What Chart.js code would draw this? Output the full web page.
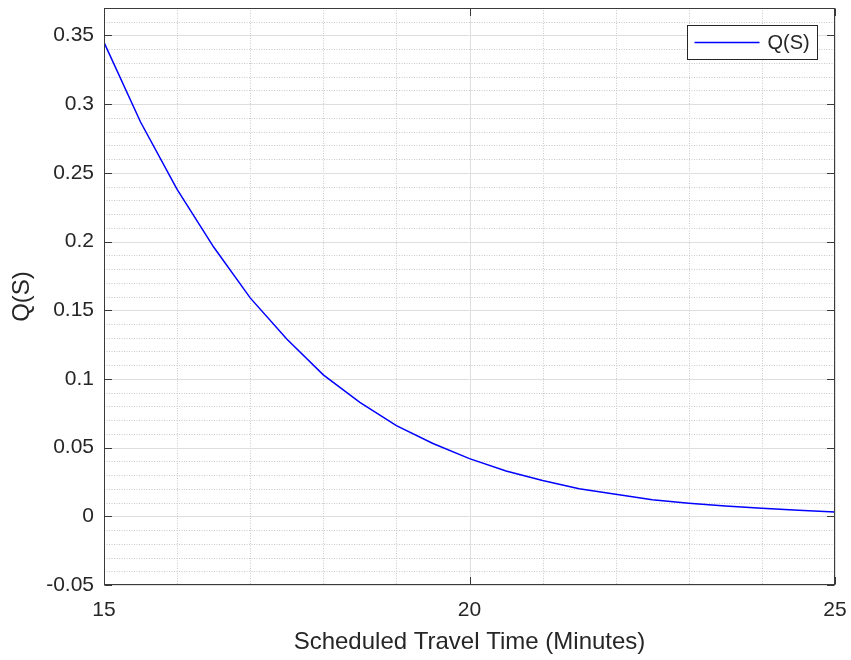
<!DOCTYPE html>
<html>
<head>
<meta charset="utf-8">
<script src="https://cdn.jsdelivr.net/npm/chart.js@4.4.0/dist/chart.umd.min.js"></script>
<style>
html,body{margin:0;padding:0;background:#ffffff;}
#wrap{width:851px;height:660px;}
</style>
</head>
<body>
<div id="wrap"><canvas id="c" width="851" height="660"></canvas></div>
<script>
// ---- data ----
const travelTime = [15, 15.5, 16, 16.5, 17, 17.5, 18, 18.5, 19, 19.5, 20, 20.5, 21, 21.5, 22, 22.5, 23, 23.5, 24, 24.5, 25];
const qValues = [0.345, 0.287, 0.238, 0.196, 0.159, 0.129, 0.103, 0.083, 0.066, 0.053, 0.042, 0.033, 0.026, 0.020, 0.016, 0.012, 0.0095, 0.0075, 0.0058, 0.0044, 0.0032];
const seriesLabel = 'Q(S)';
const xTickValues = [15, 20, 25];
const yTickValues = [-0.05, 0, 0.05, 0.1, 0.15, 0.2, 0.25, 0.3, 0.35];
const yTickLabels = ['-0.05', '0', '0.05', '0.1', '0.15', '0.2', '0.25', '0.3', '0.35'];
const xLabel = 'Scheduled Travel Time (Minutes)';
const yLabel = 'Q(S)';

const X_MIN = 15, X_MAX = 25, Y_MIN = -0.05, Y_MAX = 0.37;
const X_MINOR_STEP = 1, Y_MINOR_STEP = 0.01;

const TEXT = '#262626';
const FONT = "'Liberation Sans', Arial, Helvetica, sans-serif";

const gridPlugin = {
  id: 'matlabGrid',
  beforeDatasetsDraw(chart) {
    const {ctx, chartArea: a, scales: {x, y}} = chart;
    ctx.save();
    ctx.lineWidth = 1;
    // minor dotted
    ctx.strokeStyle = '#c9c9c9';
    ctx.setLineDash([1, 1.5]);
    for (let i = 0; ; i++) {
      const v = X_MIN + i * X_MINOR_STEP;
      if (v > X_MAX + 1e-9) break;
      if (xTickValues.some(t => Math.abs(t - v) < 1e-9)) continue;
      const px = Math.round(x.getPixelForValue(v)) + 0.5;
      ctx.beginPath(); ctx.moveTo(px, a.top); ctx.lineTo(px, a.bottom); ctx.stroke();
    }
    for (let i = 0; ; i++) {
      const v = Y_MIN + i * Y_MINOR_STEP;
      if (v > Y_MAX + 1e-9) break;
      if (yTickValues.some(t => Math.abs(t - v) < 1e-9)) continue;
      const py = Math.round(y.getPixelForValue(v)) + 0.5;
      ctx.beginPath(); ctx.moveTo(a.left, py); ctx.lineTo(a.right, py); ctx.stroke();
    }
    // major solid
    ctx.setLineDash([]);
    ctx.strokeStyle = '#dedede';
    xTickValues.forEach(v => {
      const px = Math.round(x.getPixelForValue(v)) + 0.5;
      ctx.beginPath(); ctx.moveTo(px, a.top); ctx.lineTo(px, a.bottom); ctx.stroke();
    });
    yTickValues.forEach(v => {
      const py = Math.round(y.getPixelForValue(v)) + 0.5;
      ctx.beginPath(); ctx.moveTo(a.left, py); ctx.lineTo(a.right, py); ctx.stroke();
    });
    ctx.restore();
  },
  afterDatasetsDraw(chart) {
    const {ctx, chartArea: a, scales: {x, y}} = chart;
    ctx.save();
    ctx.strokeStyle = '#3a3a3a';
    ctx.lineWidth = 1;
    const L = Math.round(a.left) + 0.5, R = Math.round(a.right) - 0.5;
    const T = Math.round(a.top) + 0.5, B = Math.round(a.bottom) - 0.5;
    ctx.strokeRect(L, T, R - L, B - T);
    const tl = 7.5;
    yTickValues.forEach(v => {
      const py = Math.round(y.getPixelForValue(v)) + 0.5;
      ctx.beginPath(); ctx.moveTo(L, py); ctx.lineTo(L + tl, py); ctx.stroke();
      ctx.beginPath(); ctx.moveTo(R, py); ctx.lineTo(R - tl, py); ctx.stroke();
    });
    xTickValues.forEach(v => {
      const px = Math.round(x.getPixelForValue(v)) + 0.5;
      ctx.beginPath(); ctx.moveTo(px, B); ctx.lineTo(px, B - tl); ctx.stroke();
      ctx.beginPath(); ctx.moveTo(px, T); ctx.lineTo(px, T + tl); ctx.stroke();
    });
    // legend
    const ds = chart.data.datasets[0];
    const bw = 130, bh = 34;
    const bx = Math.round(a.right - 18 - bw) + 0.5, by = Math.round(a.top + 17) + 0.5;
    ctx.fillStyle = '#ffffff';
    ctx.fillRect(bx, by, bw, bh);
    ctx.strokeStyle = '#262626';
    ctx.strokeRect(bx, by, bw, bh);
    ctx.strokeStyle = ds.borderColor;
    ctx.lineWidth = ds.borderWidth;
    const my = by + bh / 2;
    ctx.beginPath(); ctx.moveTo(bx + 7, my); ctx.lineTo(bx + 72, my); ctx.stroke();
    ctx.fillStyle = TEXT;
    ctx.font = "20px " + FONT;
    ctx.textBaseline = 'middle';
    ctx.textAlign = 'left';
    ctx.fillText(ds.label, bx + 80, my + 1);
    ctx.restore();
  }
};

new Chart(document.getElementById('c'), {
  type: 'line',
  data: {
    datasets: [{
      label: seriesLabel,
      data: travelTime.map((t, i) => ({x: t, y: qValues[i]})),
      borderColor: '#0000ff',
      borderWidth: 1.5,
      pointRadius: 0,
      tension: 0,
      fill: false
    }]
  },
  options: {
    responsive: false,
    animation: false,
    devicePixelRatio: 1,
    layout: {padding: {top: 8, right: 16, bottom: 0, left: 0}},
    plugins: {legend: {display: false}, tooltip: {enabled: false}},
    scales: {
      x: {
        type: 'linear', min: X_MIN, max: X_MAX,
        grid: {display: false, drawTicks: false},
        border: {display: false},
        afterBuildTicks: s => { s.ticks = xTickValues.map(v => ({value: v})); },
        afterFit: s => { s.height = 75; s.paddingLeft = 0; s.paddingRight = 0; },
        ticks: {
          color: TEXT, font: {family: FONT, size: 21}, padding: 13, maxRotation: 0,
          callback: v => String(v)
        },
        title: {display: true, text: xLabel, color: TEXT, font: {family: FONT, size: 24}, padding: {top: 0, bottom: 3}}
      },
      y: {
        type: 'linear', min: Y_MIN, max: Y_MAX,
        grid: {display: false, drawTicks: false},
        border: {display: false},
        afterBuildTicks: s => { s.ticks = yTickValues.map(v => ({value: v})); },
        afterFit: s => { s.width = 104; s.paddingTop = 0; s.paddingBottom = 0; },
        ticks: {
          color: TEXT, font: {family: FONT, size: 21}, padding: 10,
          callback: (v) => {
            const i = yTickValues.findIndex(t => Math.abs(t - v) < 1e-9);
            return i >= 0 ? yTickLabels[i] : '';
          }
        },
        title: {display: true, text: yLabel, color: TEXT, font: {family: FONT, size: 24}, padding: {top: 8, bottom: 0}}
      }
    }
  },
  plugins: [gridPlugin]
});
</script>
</body>
</html>
